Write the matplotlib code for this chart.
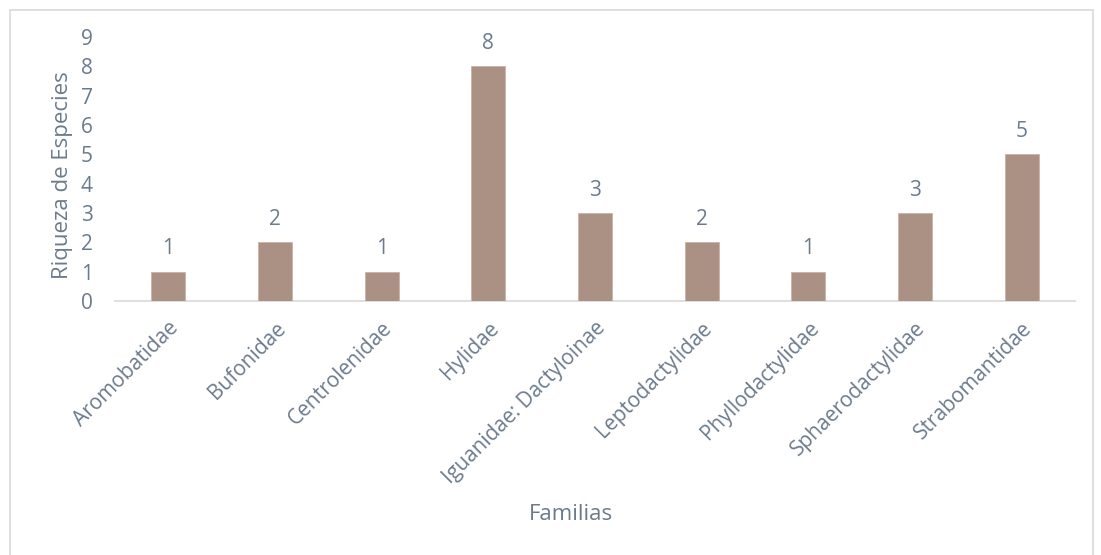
import matplotlib
matplotlib.use("Agg")
import matplotlib.pyplot as plt
from matplotlib.patches import Rectangle

categories = ["Aromobatidae", "Bufonidae", "Centrolenidae", "Hylidae",
              "Iguanidae: Dactyloinae", "Leptodactylidae", "Phyllodactylidae",
              "Sphaerodactylidae", "Strabomantidae"]
values = [1, 2, 1, 8, 3, 2, 1, 3, 5]
yticks = list(range(0, 10))

txt = "#6b7b8c"
plt.rcParams['font.family'] = ['Open Sans', 'DejaVu Sans']

fig = plt.figure(figsize=(11.01, 5.55), dpi=100)
ax = fig.add_axes([115/1101, 1-301/555, (1075-115)/1101, (301-37)/555])

x = list(range(len(categories)))
ax.bar(x, values, width=0.32, color="#ab9084", edgecolor="#c9b3a9", linewidth=0.6, zorder=3)
for xi, v in zip(x, values):
    ax.annotate(str(v), (xi, v), xytext=(0, 9), textcoords="offset points",
                ha="center", va="bottom", fontsize=15, color=txt)

ax.set_xlim(-0.5, len(categories) - 0.5)
ax.set_ylim(0, 9)
ax.set_yticks(yticks)
ax.set_yticklabels([str(t) for t in yticks], fontsize=15, color=txt)
ax.set_xticks(x)
ax.set_xticklabels(categories, rotation=45, ha="right", rotation_mode="anchor",
                   fontsize=15, color=txt)
ax.tick_params(axis="y", length=0, pad=16)
ax.tick_params(axis="x", length=0, pad=12)
for s in ["top", "right", "left"]:
    ax.spines[s].set_visible(False)
ax.spines["bottom"].set_color("#d9d9d9")
ax.spines["bottom"].set_linewidth(1.2)

ax.set_ylabel("Riqueza de Especies", fontsize=16, color=txt)
ax.yaxis.set_label_coords((73 - 115) / 960, (301 - 175) / 264)
fig.text(571/1101, 1-515/555, "Familias", ha="center", va="center", fontsize=16, color=txt)

fig.patches.append(Rectangle((10/1101, -0.01), (1093-10)/1101, 1-10/555+0.01,
                             transform=fig.transFigure, fill=False,
                             edgecolor="#d9d9d9", linewidth=1.2))

fig.savefig("out.png", dpi=100)
